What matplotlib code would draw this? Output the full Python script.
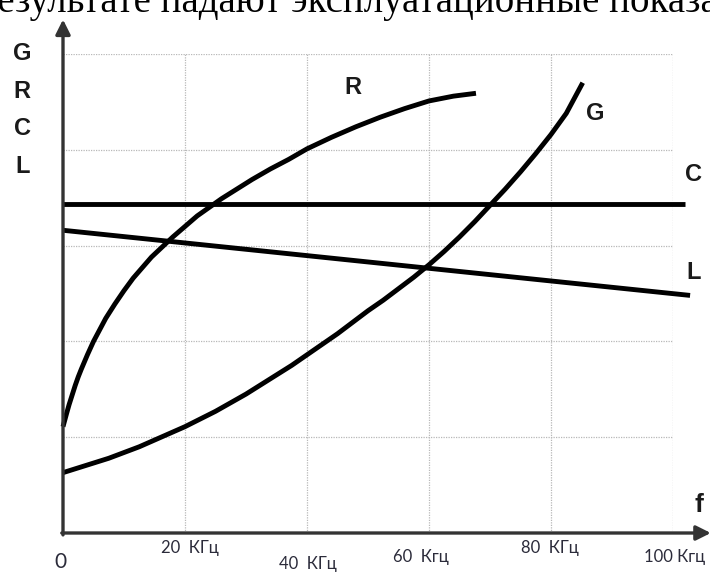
import matplotlib
matplotlib.use("Agg")
import matplotlib.pyplot as plt

# frequency, kHz
r_freq = [0, 0.3, 0.6, 1, 1.5, 2, 2.5, 3, 4, 5, 6, 7, 8.5, 10, 11.5, 13, 14.5, 16, 18,
          20, 22, 24, 26, 28, 31, 34, 37, 40, 44, 48, 52, 56, 60, 64, 67.7]
r_vals = [1.11, 1.18, 1.25, 1.34, 1.44, 1.54, 1.63, 1.71, 1.86, 2.00, 2.12, 2.24, 2.39,
          2.53, 2.66, 2.77, 2.88, 2.97, 3.09, 3.20, 3.31, 3.40, 3.49, 3.57, 3.69, 3.80,
          3.90, 4.01, 4.13, 4.24, 4.34, 4.43, 4.51, 4.56, 4.59]

g_freq = [0, 2.5, 5, 7.5, 10, 12.5, 15, 17.5, 20, 22.5, 25, 27.5, 30, 32.5, 35, 37.5, 40,
          42.5, 45, 47.5, 50, 52.5, 55, 57.5, 60, 62.5, 65, 67.5, 70, 72.5, 75, 77.5, 80,
          82.5, 85.2]
g_vals = [0.63, 0.68, 0.73, 0.78, 0.84, 0.90, 0.97, 1.04, 1.11, 1.19, 1.27, 1.36, 1.45,
          1.55, 1.65, 1.75, 1.86, 1.97, 2.08, 2.20, 2.32, 2.43, 2.55, 2.67, 2.80, 2.94,
          3.09, 3.25, 3.42, 3.59, 3.77, 3.96, 4.16, 4.38, 4.70]

c_freq = [0, 102]
c_vals = [3.43, 3.43]

l_freq = [0, 102.8]
l_vals = [3.16, 2.48]

tick_pos = [0, 20, 40, 60, 80, 100]
tick_labels = ["0", "20  КГц", "40  КГц", "60  Кгц", "80  КГц", "100 Кгц"]
side_labels = ["G", "R", "C", "L"]

W, H = 710, 574
fig = plt.figure(figsize=(W / 100, H / 100), dpi=100)
ax = fig.add_axes([63 / W, 41 / H, 610 / W, 479 / H])
ax.set_xlim(0, 100)
ax.set_ylim(0, 5)
ax.axis("off")

# grid
ax.vlines([20, 40, 60, 80, 100], 0, 5, colors="#b8b8b8", linestyles=(0, (1, 1)), lw=0.9)
ax.hlines([1, 2, 3, 4, 5], 0, 100, colors="#b8b8b8", linestyles=(0, (1, 1)), lw=0.9)

# curves
for fx, fy in [(r_freq, r_vals), (g_freq, g_vals), (c_freq, c_vals), (l_freq, l_vals)]:
    ax.plot(fx, fy, color="black", lw=3.5, solid_capstyle="butt",
            solid_joinstyle="round", clip_on=False)

# axes with arrows
axis_col = "#333333"
ax.annotate("", xy=(0, 5.36), xytext=(0, -0.02),
            arrowprops=dict(arrowstyle="-|>", color=axis_col, lw=2.4, mutation_scale=22,
                            shrinkA=0, shrinkB=0), annotation_clip=False)
ax.annotate("", xy=(106.2, 0), xytext=(-0.2, 0),
            arrowprops=dict(arrowstyle="-|>", color=axis_col, lw=2.4, mutation_scale=22,
                            shrinkA=0, shrinkB=0), annotation_clip=False)

bold = dict(fontsize=17, fontweight="bold", family="Liberation Sans", color="#1a1a1a",
            ha="center", va="center")
ax.text(47.5, 4.65, "R", **bold)
ax.text(87.2, 4.38, "G", **bold)
ax.text(103.4, 3.74, "C", **bold)
ax.text(103.3, 2.72, "L", **bold)
for i, s in enumerate(side_labels):
    ax.text(-6.7, 5.0 - 0.39 * i, s, **bold)
ax.text(104.3, 0.29, "f", fontsize=19, fontweight="bold", family="Liberation Sans",
        color="#1a1a1a", ha="center", va="center")

# tick labels, staggered like the source
x_shift = [-0.5, 0.8, 0.2, -1.3, -0.2, 0.3]
y_pos = [-0.30, -0.16, -0.32, -0.25, -0.16, -0.25]
for p, lab, dx, yy in zip(tick_pos, tick_labels, x_shift, y_pos):
    ax.text(p + dx, yy, lab, fontsize=12 if p else 15, family="Lato", color="#2b2b3a",
            ha="center", va="center")

# cut-off line of text above the figure
fig.text(-22 / W, 1 - 12 / H, "результате падают эксплуатационные показатели",
         fontsize=28, family="Liberation Serif", color="black", ha="left", va="baseline")

fig.savefig("out.png", dpi=100)
